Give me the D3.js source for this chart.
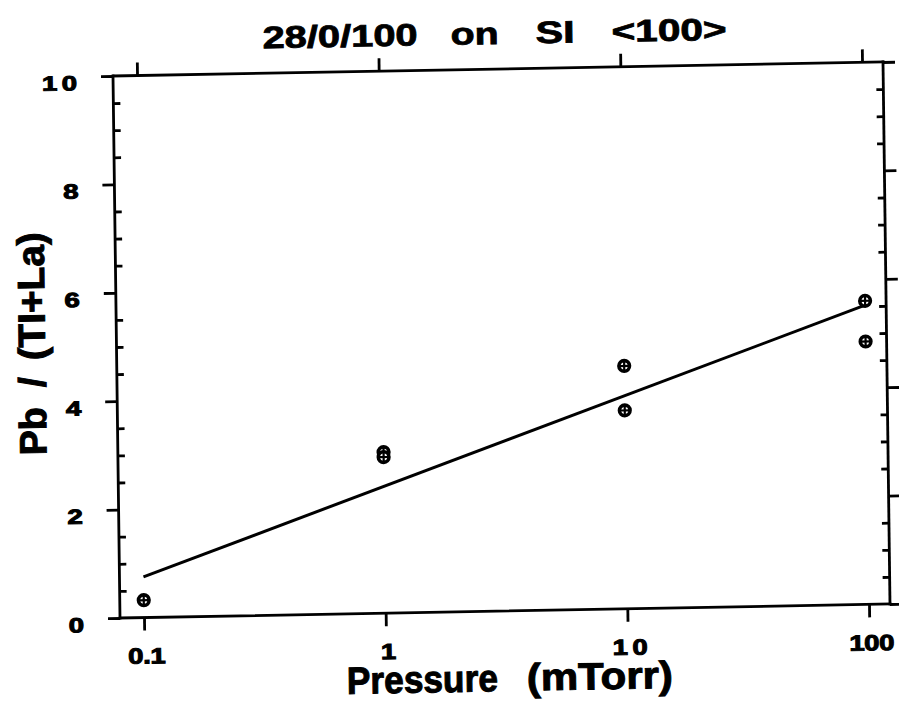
<!DOCTYPE html>
<html>
<head>
<meta charset="utf-8">
<script src="https://cdn.jsdelivr.net/npm/d3@7"></script>
<style>
  html, body { margin: 0; padding: 0; background: #fff; }
  svg { display: block; }
  text { font-family: "Liberation Sans", Arial, Helvetica, sans-serif; font-weight: bold; fill: #000; stroke: #000; }
</style>
</head>
<body>
<script>
// Pb/(Ti+La) ratio of 28/0/100 films on Si <100> versus sputter pressure
const pressure = [0.1, 1, 1, 10, 10, 100, 100];          // mTorr
const ratio    = [0.32, 2.97, 2.88, 4.48, 3.66, 5.60, 4.85];

// straight-line fit (linear in log pressure), given by its end points
const fitPressure = [0.1, 100];
const fitRatio    = [0.75, 5.52];

const xTicks      = [0.1, 1, 10, 100];
const xTickLabels = ["0.1", "1", "10", "100"];
const yTicks      = [0, 2, 4, 6, 8, 10];
const yMinorTicks = [0.5, 1, 1.5, 2.5, 3, 3.5, 4.5, 5, 5.5, 6.5, 7, 7.5, 8.5, 9, 9.5];

const titleWords = ["28/0/100", "on", "SI", "<100>"];
const xTitleWords = ["Pressure", "(mTorr)"];
const yTitleWords = ["Pb", "/", "(TI+La)"];

const W = 899, H = 703;
const L = 113, R = 883, T = 76, B = 618;

const svg = d3.select("body").append("svg")
  .attr("width", W).attr("height", H);

// whole figure sits slightly askew on the page
const root = svg.append("g")
  .attr("transform", "matrix(1,-0.0182,0.0129,1,-0.98,2.06)");

const x = d3.scaleLog().domain([0.1, 100]).range([137, 862]);
const y = d3.scaleLinear().domain([0, 10]).range([B, T]);

const AX = 2.8;

function styleTicks(g) {
  g.select(".domain").remove();
  g.selectAll(".tick line").attr("stroke", "#000").attr("stroke-width", AX);
}

// frame
const frame = root.append("g").attr("stroke", "#000").attr("stroke-width", AX)
  .attr("stroke-linecap", "square");
frame.append("line").attr("x1", L).attr("x2", R).attr("y1", T).attr("y2", T);
frame.append("line").attr("x1", L).attr("x2", R).attr("y1", B).attr("y2", B);
frame.append("line").attr("x1", L).attr("x2", L).attr("y1", T).attr("y2", B);
frame.append("line").attr("x1", R).attr("x2", R).attr("y1", T).attr("y2", B);

// bottom axis with labels (centred on the ticks via textLength)
const sxX = 1.25;
const xLabelLen = [30, 9, 28, 36];
root.append("g").attr("transform", `translate(0,${B})`)
  .call(d3.axisBottom(x).tickValues(xTicks).tickSize(13)
        .tickFormat((d, i) => xTickLabels[i]))
  .call(styleTicks)
  .call(g => g.selectAll(".tick text")
    .attr("y", 46).attr("dy", 0).attr("x", 1.5)
    .attr("transform", `scale(${sxX},1)`)
    .attr("text-anchor", "middle")
    .attr("textLength", (d, i) => xLabelLen[i])
    .attr("lengthAdjust", "spacing")
    .attr("stroke-width", 1)
    .style("font-size", "22px"));

// top axis, ticks only
root.append("g").attr("transform", `translate(0,${T})`)
  .call(d3.axisTop(x).tickValues(xTicks).tickSize(13).tickFormat(""))
  .call(styleTicks);

// left axis: major ticks outward with labels, minor ticks inward
const sxY = 1.35;
root.append("g").attr("transform", `translate(${L},0)`)
  .call(d3.axisLeft(y).tickValues(yTicks).tickSize(12).tickFormat(d3.format("d")))
  .call(styleTicks)
  .call(g => g.selectAll(".tick text")
    .attr("x", -36 / sxY).attr("dy", 13)
    .attr("transform", `scale(${sxY},1)`)
    .attr("text-anchor", "end")
    .attr("textLength", d => d >= 10 ? 26 : null)
    .attr("lengthAdjust", "spacing")
    .attr("stroke-width", 1)
    .style("font-size", "20.5px"));
root.append("g").attr("transform", `translate(${L},0)`)
  .call(d3.axisLeft(y).tickValues(yMinorTicks).tickSize(-7).tickFormat(""))
  .call(styleTicks);

// right axis: major ticks outward, minor ticks inward
root.append("g").attr("transform", `translate(${R},0)`)
  .call(d3.axisRight(y).tickValues(yTicks).tickSize(12).tickFormat(""))
  .call(styleTicks);
root.append("g").attr("transform", `translate(${R},0)`)
  .call(d3.axisRight(y).tickValues(yMinorTicks).tickSize(-7).tickFormat(""))
  .call(styleTicks);

// fit line
const fitData = fitPressure.map((p, i) => [p, fitRatio[i]]);
root.append("path").datum(fitData)
  .attr("fill", "none").attr("stroke", "#000").attr("stroke-width", 3)
  .attr("d", d3.line().x(d => x(d[0])).y(d => y(d[1])));

// measured points: circled plus markers
const pts = pressure.map((p, i) => [p, ratio[i]]);
const mk = root.append("g").selectAll("g").data(pts).join("g")
  .attr("transform", d => `translate(${x(d[0])},${y(d[1])})`);
mk.append("circle").attr("r", 5.3).attr("fill", "#fff")
  .attr("stroke", "#000").attr("stroke-width", 3.6);
mk.append("line").attr("x1", -4.5).attr("x2", 4.5).attr("y1", 0).attr("y2", 0)
  .attr("stroke", "#000").attr("stroke-width", 2.2);
mk.append("line").attr("y1", -4.5).attr("y2", 4.5).attr("x1", 0).attr("x2", 0)
  .attr("stroke", "#000").attr("stroke-width", 2.2);

// title
const titleX = [263, 451, 536, 612];
const titleLen = [155, 48, 39, 115];
const title = root.append("text").attr("y", 51).attr("stroke-width", 0.8)
  .style("font-size", "31px");
titleWords.forEach((w, i) => {
  title.append("tspan").attr("x", titleX[i])
    .attr("textLength", titleLen[i]).attr("lengthAdjust", "spacingAndGlyphs")
    .text(w);
});

// x-axis title
const xtX = [339, 519], xtLen = [151, 146];
const xt = root.append("text").attr("y", 698).attr("stroke-width", 1)
  .style("font-size", "38px");
xTitleWords.forEach((w, i) => {
  xt.append("tspan").attr("x", xtX[i])
    .attr("textLength", xtLen[i]).attr("lengthAdjust", "spacingAndGlyphs")
    .text(w);
});

// y-axis title, reading upward
const ytY = [453.8, 386, 358.8], ytLen = [48, null, 128];
const yt = root.append("text")
  .attr("transform", "translate(41.6,0) rotate(-90)")
  .attr("stroke-width", 1)
  .style("font-size", "38px");
yTitleWords.forEach((w, i) => {
  const t = yt.append("tspan").attr("x", -ytY[i]).attr("y", 0).text(w);
  if (ytLen[i]) t.attr("textLength", ytLen[i]).attr("lengthAdjust", "spacingAndGlyphs");
});
</script>
</body>
</html>
